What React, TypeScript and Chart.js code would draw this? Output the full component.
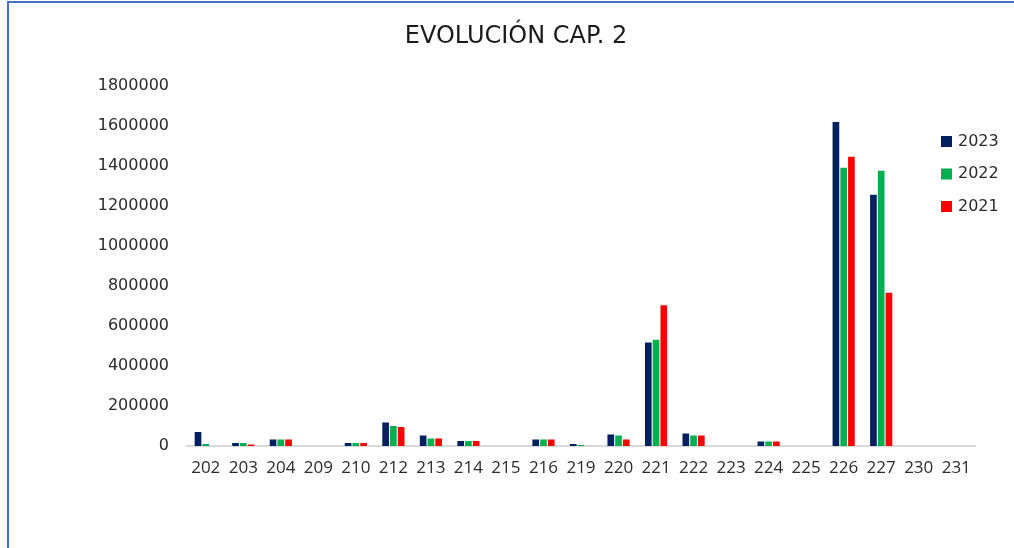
import React, { useEffect, useRef } from "react";
import { Chart, registerables } from "chart.js";

Chart.register(...registerables);

const categories = ["202", "203", "204", "209", "210", "212", "213", "214", "215", "216", "219", "220", "221", "222", "223", "224", "225", "226", "227", "230", "231"];
const seriesLabels = ["2023", "2022", "2021"];
const values2023 = [70000, 15000, 33000, 0, 15000, 118000, 53000, 25000, 0, 33000, 10000, 58000, 517000, 62000, 0, 23000, 0, 1619000, 1255000, 0, 0];
const values2022 = [10000, 15000, 33000, 0, 15000, 100000, 38000, 25000, 0, 33000, 5000, 53000, 531000, 52000, 0, 23000, 0, 1390000, 1376000, 0, 0];
const values2021 = [0, 7000, 33000, 0, 15000, 95000, 38000, 25000, 0, 33000, 0, 33000, 703000, 52000, 0, 23000, 0, 1446000, 766000, 0, 0];
const seriesColors = ["#002060", "#00B050", "#FF0000"];
const yMin = 0;
const yMax = 1800000;
const yStep = 200000;
const titleText = "EVOLUCIÓN CAP. 2";

const TEXT_COLOR = "#2b2b2b";

const sideLegend = {
  id: "sideLegend",
  afterDraw(chart: any) {
    const ctx = chart.ctx;
    ctx.save();
    ctx.font = "16px 'DejaVu Sans'";
    ctx.textBaseline = "middle";
    ctx.textAlign = "left";
    chart.data.datasets.forEach((ds: any, i: number) => {
      const y = 141.5 + i * 32.5;
      ctx.fillStyle = ds.backgroundColor;
      ctx.fillRect(941, y - 5.5, 11, 11);
      ctx.fillStyle = TEXT_COLOR;
      ctx.fillText(ds.label, 958, y);
    });
    ctx.restore();
  },
};

export default function App() {
  const canvasRef = useRef<HTMLCanvasElement | null>(null);

  useEffect(() => {
    if (!canvasRef.current) return;
    const seriesValues = [values2023, values2022, values2021];
    const chart = new Chart(canvasRef.current, {
      type: "bar",
      data: {
        labels: categories,
        datasets: seriesLabels.map((label, i) => ({
          label,
          data: seriesValues[i],
          backgroundColor: seriesColors[i],
          borderWidth: 0,
          categoryPercentage: 0.62,
          barPercentage: 0.86,
        })),
      },
      options: {
        responsive: false,
        animation: false,
        devicePixelRatio: 1,
        layout: { padding: { left: 57, right: 39, top: 22, bottom: 62 } },
        plugins: {
          legend: { display: false },
          tooltip: { enabled: false },
          title: {
            display: true,
            text: titleText,
            color: "#1a1a1a",
            font: { family: "'DejaVu Sans'", size: 24, weight: "normal" },
            padding: { top: 0, bottom: 35 },
          },
        },
        scales: {
          x: {
            type: "category",
            grid: { display: false, drawTicks: false },
            border: { display: true, color: "#d9d9d9", width: 2 },
            ticks: {
              autoSkip: false,
              maxRotation: 0,
              minRotation: 0,
              color: TEXT_COLOR,
              padding: 12,
              font: { family: "'Open Sans'", size: 17 },
            },
            afterFit: (scale: any) => {
              scale.height = 40;
            },
          },
          y: {
            min: yMin,
            max: yMax,
            grid: { display: false, drawTicks: false },
            border: { display: false },
            ticks: {
              stepSize: yStep,
              color: TEXT_COLOR,
              padding: 18,
              font: { family: "'DejaVu Sans'", size: 16 },
              callback: (v: any) => String(v),
            },
            afterFit: (scale: any) => {
              scale.width = 130;
            },
          },
        },
      },
      plugins: [sideLegend],
    });
    return () => chart.destroy();
  }, []);

  return (
    <div
      style={{
        position: "fixed",
        left: 0,
        top: 0,
        width: 1014,
        height: 548,
        background: "#ffffff",
        overflow: "hidden",
      }}
    >
      <div
        style={{
          position: "absolute",
          left: 7,
          top: 1,
          width: 1030,
          height: 560,
          borderTop: "2px solid #4472C4",
          borderLeft: "2px solid #4472C4",
        }}
      />
      <canvas
        ref={canvasRef}
        width={1014}
        height={548}
        style={{ position: "absolute", left: 0, top: 0, width: 1014, height: 548 }}
      />
    </div>
  );
}
